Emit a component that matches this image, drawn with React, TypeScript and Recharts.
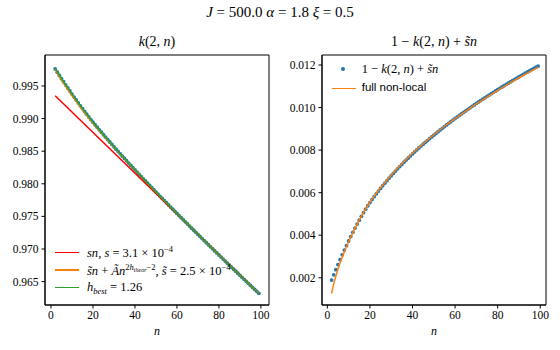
import React from 'react';
import { ComposedChart, ReferenceArea, Scatter, XAxis, YAxis } from 'recharts';

// n = 2 .. 99
const nValues = [
  2, 3, 4, 5, 6, 7, 8, 9, 10, 11, 12, 13, 14, 15, 16, 17, 18, 19, 20, 21, 22, 23, 24, 25, 26, 27, 28, 29, 30,
  31, 32, 33, 34, 35, 36, 37, 38, 39, 40, 41, 42, 43, 44, 45, 46, 47, 48, 49, 50, 51, 52, 53, 54, 55, 56, 57, 58,
  59, 60, 61, 62, 63, 64, 65, 66, 67, 68, 69, 70, 71, 72, 73, 74, 75, 76, 77, 78, 79, 80, 81, 82, 83, 84, 85, 86,
  87, 88, 89, 90, 91, 92, 93, 94, 95, 96, 97, 98, 99,
];

// k(2, n), left panel dots
const kValues = [
  0.997608, 0.997107, 0.996616, 0.996125, 0.995644, 0.995163, 0.994692, 0.994231, 0.993762, 0.993303, 0.99285,
  0.992403, 0.991962, 0.991527, 0.991098, 0.990675, 0.990258, 0.989847, 0.989448, 0.989055, 0.988667, 0.988282,
  0.987901, 0.987524, 0.987149, 0.986777, 0.986407, 0.986041, 0.985676, 0.985314, 0.984954, 0.984596, 0.98424,
  0.983886, 0.983533, 0.983182, 0.982833, 0.982485, 0.982138, 0.981794, 0.98145, 0.981108, 0.980767, 0.980428,
  0.98009, 0.979753, 0.979416, 0.979081, 0.978747, 0.978414, 0.978081, 0.97775, 0.97742, 0.977091, 0.976761,
  0.976434, 0.976106, 0.975781, 0.975455, 0.97513, 0.974807, 0.974483, 0.97416, 0.973838, 0.973516, 0.973196,
  0.972876, 0.972557, 0.972238, 0.971919, 0.971602, 0.971285, 0.970969, 0.970652, 0.970337, 0.970022, 0.969707,
  0.969393, 0.969079, 0.968766, 0.968453, 0.968142, 0.96783, 0.967518, 0.967208, 0.966897, 0.966587, 0.966278,
  0.965968, 0.965658, 0.965351, 0.965043, 0.964735, 0.964427, 0.964121, 0.963813, 0.963507, 0.963202,
];

// 1 - k(2, n) + s~n, right panel dots
const residualValues = [
  0.00189, 0.00214, 0.00238, 0.00262, 0.00285, 0.00308, 0.0033, 0.00351, 0.003728, 0.003936, 0.004138, 0.004334,
  0.004524, 0.004708, 0.004886, 0.005058, 0.005224, 0.005384, 0.005532, 0.005674, 0.005811, 0.005945, 0.006075,
  0.006201, 0.006325, 0.006446, 0.006565, 0.00668, 0.006794, 0.006905, 0.007014, 0.007121, 0.007226, 0.007329,
  0.007431, 0.007531, 0.007629, 0.007726, 0.007822, 0.007915, 0.008008, 0.008099, 0.008189, 0.008277, 0.008364,
  0.00845, 0.008536, 0.00862, 0.008703, 0.008785, 0.008867, 0.008947, 0.009026, 0.009104, 0.009183, 0.009259,
  0.009336, 0.00941, 0.009485, 0.009559, 0.009631, 0.009704, 0.009776, 0.009847, 0.009918, 0.009987, 0.010056,
  0.010124, 0.010192, 0.01026, 0.010326, 0.010392, 0.010457, 0.010523, 0.010587, 0.010651, 0.010715, 0.010778,
  0.010841, 0.010903, 0.010965, 0.011025, 0.011086, 0.011147, 0.011206, 0.011266, 0.011325, 0.011383, 0.011442,
  0.011501, 0.011557, 0.011614, 0.011671, 0.011728, 0.011783, 0.01184, 0.011895, 0.011949,
];

// fitted lines, left panel
const fitN = [2, 3, 4, 5, 6, 8, 10, 12, 15, 20, 25, 30, 40, 50, 60, 70, 80, 90, 99];
const theorValues = [
  0.99768, 0.99698, 0.99642, 0.99591, 0.99541, 0.99446, 0.99353, 0.99263, 0.99132, 0.98928, 0.9874, 0.9856,
  0.98211, 0.97873, 0.97545, 0.97224, 0.96908, 0.96597, 0.9632,
];
const bestValues = [
  0.99775, 0.9972, 0.99668, 0.99618, 0.99568, 0.99472, 0.99378, 0.99286, 0.99153, 0.98944, 0.98752, 0.98568,
  0.98214, 0.97875, 0.97546, 0.97224, 0.96908, 0.96597, 0.9632,
];
const linearN = [2, 99];
const linearValues = [0.99351, 0.9632];

// full non-local, right panel
const nonLocalN = [2, 3, 4, 5, 6, 7, 8, 9, 10, 11, 12, 14, 16, 20, 25, 30, 35, 40, 45, 50, 55, 60, 65, 70, 75, 80, 85, 90, 95, 99];
const nonLocalValues = [
  0.00127, 0.0017, 0.00207, 0.0024, 0.0027, 0.00297, 0.00322, 0.00346, 0.00369, 0.00391, 0.00412, 0.00452, 0.0049,
  0.00556, 0.00623, 0.00683, 0.00736, 0.00785, 0.0083, 0.00872, 0.00912, 0.00948, 0.00983, 0.01017, 0.01049,
  0.01081, 0.01111, 0.0114, 0.01168, 0.0119,
];

const xTicks = [0, 20, 40, 60, 80, 100];
const leftYTicks = [0.965, 0.97, 0.975, 0.98, 0.985, 0.99, 0.995];
const rightYTicks = [0.002, 0.004, 0.006, 0.008, 0.01, 0.012];

const kDots = nValues.map((n, i) => ({ n, y: kValues[i] }));
const residualDots = nValues.map((n, i) => ({ n, y: residualValues[i] }));
const theorLine = fitN.map((n, i) => ({ n, y: theorValues[i] }));
const bestLine = fitN.map((n, i) => ({ n, y: bestValues[i] }));
const linearLine = linearN.map((n, i) => ({ n, y: linearValues[i] }));
const nonLocalLine = nonLocalN.map((n, i) => ({ n, y: nonLocalValues[i] }));

const serif = '"Liberation Serif", "Times New Roman", serif';
const sans = '"Liberation Sans", Arial, sans-serif';
const BLUE = '#1f77b4';
const ORANGE = '#ff7f0e';
const GREEN = '#2ca02c';
const RED = '#ff0000';

const tickStyle = { fontSize: 11.5, fill: '#000', fontFamily: serif };
const fmt3 = (v: number) => v.toFixed(3);

const Dot = (props: any) => <circle cx={props.cx} cy={props.cy} r={1.9} fill={BLUE} />;
const NoDot = () => <g />;

// lines drawn as joined scatters so that they stack in source order with the dots
function lineSeries(data: { n: number; y: number }[], color: string, smooth: boolean) {
  return (
    <Scatter
      data={data}
      dataKey="y"
      shape={NoDot}
      line={{ stroke: color, strokeWidth: 1.5, fill: 'none' }}
      lineJointType={smooth ? 'monotoneX' : 'linear'}
      isAnimationActive={false}
    />
  );
}

function Label({
  x,
  y,
  children,
  size = 14,
  center = true,
  family = serif,
}: {
  x: number;
  y: number;
  children: React.ReactNode;
  size?: number;
  center?: boolean;
  family?: string;
}) {
  return (
    <div
      style={{
        position: 'absolute',
        left: x,
        top: y,
        transform: center ? 'translate(-50%, -50%)' : 'translate(0, -50%)',
        fontSize: size,
        fontFamily: family,
        lineHeight: 1,
        whiteSpace: 'nowrap',
        color: '#000',
      }}
    >
      {children}
    </div>
  );
}

function Handle({ x, y, color }: { x: number; y: number; color: string }) {
  return (
    <div style={{ position: 'absolute', left: x, top: y - 0.75, width: 24, height: 1.5, background: color }} />
  );
}

function Panel({
  left,
  marginLeft,
  marginRight,
  yWidth,
  xDomain,
  yDomain,
  yTicks,
  children,
}: {
  left: number;
  marginLeft: number;
  marginRight: number;
  yWidth: number;
  xDomain: [number, number];
  yDomain: [number, number];
  yTicks: number[];
  children: React.ReactNode;
}) {
  return (
    <div style={{ position: 'absolute', left, top: 0 }}>
      <ComposedChart width={280} height={350} margin={{ top: 55, right: marginRight, bottom: 15, left: marginLeft }}>
        <XAxis
          type="number"
          dataKey="n"
          domain={xDomain}
          ticks={xTicks}
          height={30}
          tickSize={3.5}
          tickMargin={2.5}
          tick={tickStyle}
          stroke="#000"
          allowDataOverflow
        />
        <YAxis
          type="number"
          domain={yDomain}
          ticks={yTicks}
          width={yWidth}
          tickSize={3.5}
          tickMargin={3}
          tick={tickStyle}
          tickFormatter={fmt3}
          stroke="#000"
          allowDataOverflow
        />
        <ReferenceArea
          x1={xDomain[0]}
          x2={xDomain[1]}
          y1={yDomain[0]}
          y2={yDomain[1]}
          fill="none"
          fillOpacity={0}
          stroke="#000"
          strokeWidth={1}
        />
        {children}
      </ComposedChart>
    </div>
  );
}

export default function App() {
  return (
    <div style={{ position: 'fixed', left: 0, top: 0, width: 560, height: 350, background: '#fff', overflow: 'hidden' }}>
      <Panel left={0} marginLeft={6} marginRight={11} yWidth={39} xDomain={[-2.85, 103.85]} yDomain={[0.96141, 0.99975]} yTicks={leftYTicks}>
        <Scatter data={kDots} dataKey="y" shape={Dot} isAnimationActive={false} />
        {lineSeries(linearLine, RED, false)}
        {lineSeries(theorLine, ORANGE, true)}
        {lineSeries(bestLine, GREEN, true)}
      </Panel>
      <Panel left={280} marginLeft={6} marginRight={14} yWidth={36} xDomain={[-2.5, 102.7]} yDomain={[0.00072, 0.01247]} yTicks={rightYTicks}>
        <Scatter data={residualDots} dataKey="y" shape={Dot} isAnimationActive={false} />
        {lineSeries(nonLocalLine, ORANGE, true)}
      </Panel>

      <Label x={280} y={12} size={15}>
        <i>J</i> = 500.0 <i>α</i> = 1.8 <i>ξ</i> = 0.5
      </Label>
      <Label x={157} y={42}>
        <i>k</i>(2, <i>n</i>)
      </Label>
      <Label x={434} y={42}>
        1 − <i>k</i>(2, <i>n</i>) + <i>s̃n</i>
      </Label>
      <Label x={157} y={331} size={12}>
        <i>n</i>
      </Label>
      <Label x={434} y={331} size={12}>
        <i>n</i>
      </Label>

      {/* left legend */}
      <Handle x={55} y={252.3} color={RED} />
      <Label x={87} y={252} size={12.5} center={false}>
        <i>sn</i>, <i>s</i> = 3.1 × 10<sup style={{ fontSize: 8.5 }}>−4</sup>
      </Label>
      <Handle x={55} y={270} color={ORANGE} />
      <Label x={87} y={270} size={12.5} center={false}>
        <i>s̃n</i> + <i>Ãn</i>
        <sup style={{ fontSize: 8.5 }}>
          2<i>h</i>
          <sub style={{ fontSize: 6 }}>
            <i>theor</i>
          </sub>
          −2
        </sup>
        , <i>s̃</i> = 2.5 × 10<sup style={{ fontSize: 8.5 }}>−4</sup>
      </Label>
      <Handle x={55} y={287.7} color={GREEN} />
      <Label x={87} y={287.5} size={12.5} center={false}>
        <i>h</i>
        <sub style={{ fontSize: 8.5 }}>
          <i>best</i>
        </sub>{' '}
        = 1.26
      </Label>

      {/* right legend */}
      <div style={{ position: 'absolute', left: 341.4, top: 67.4, width: 3.8, height: 3.8, borderRadius: '50%', background: BLUE }} />
      <Label x={361.7} y={69} size={12.5} center={false}>
        1 − <i>k</i>(2, <i>n</i>) + <i>s̃n</i>
      </Label>
      <Handle x={331.5} y={88.3} color={ORANGE} />
      <Label x={361.7} y={88} size={11.5} center={false} family={sans}>
        full non-local
      </Label>
    </div>
  );
}
